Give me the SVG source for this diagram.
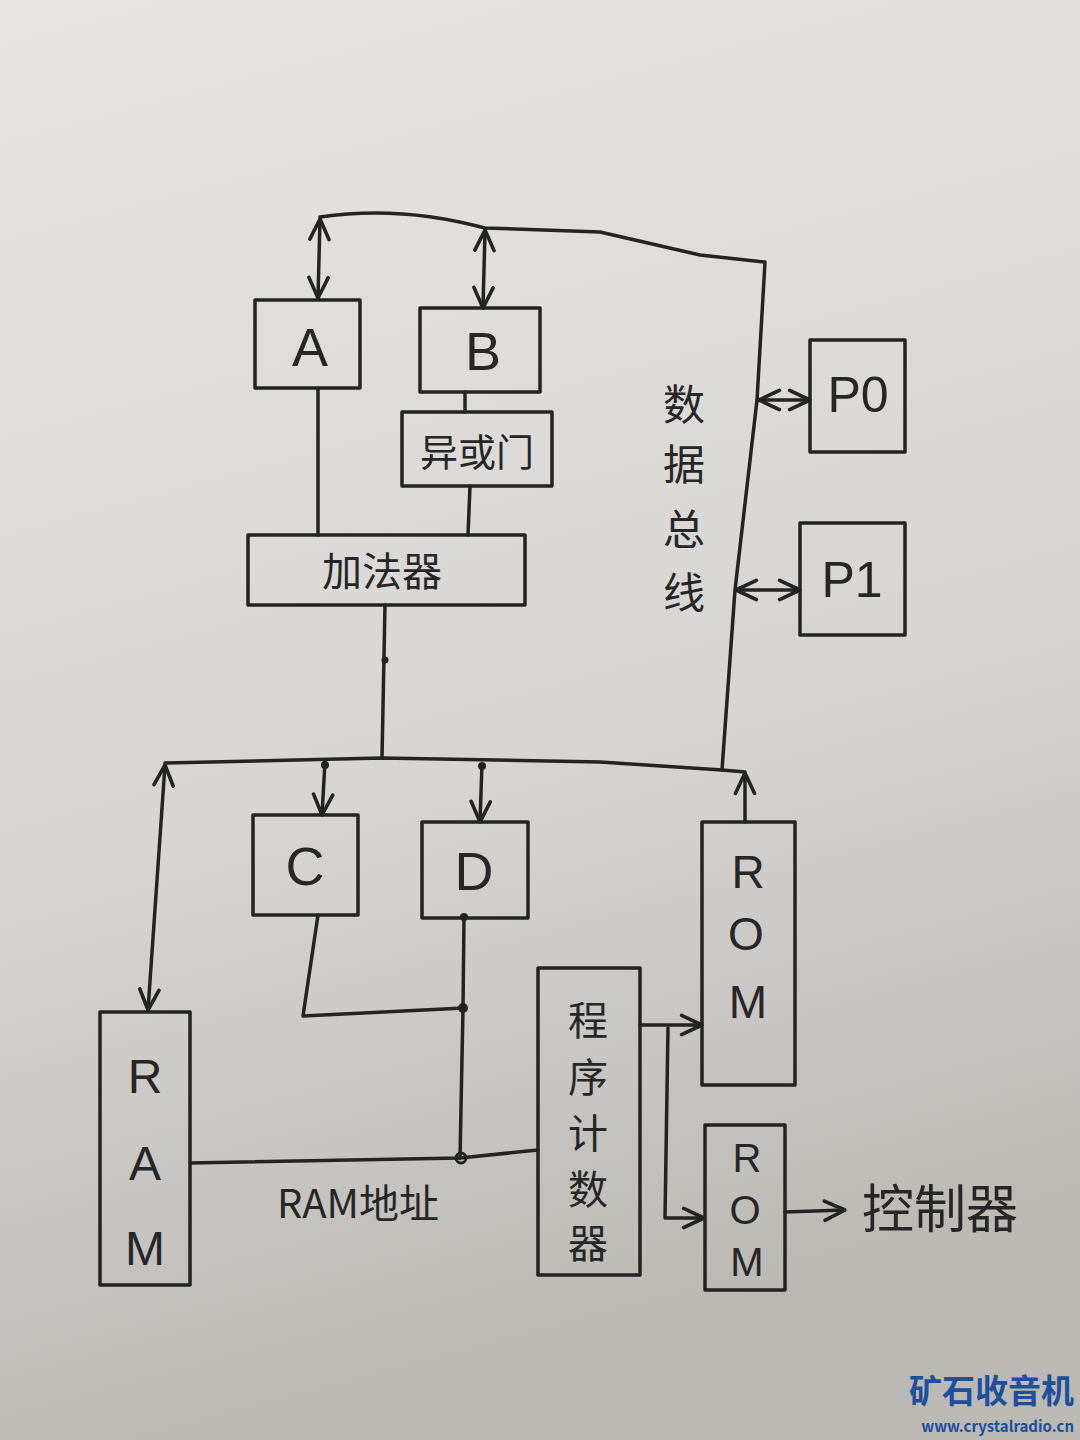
<svg xmlns="http://www.w3.org/2000/svg" width="1080" height="1440" viewBox="0 0 1080 1440">
  <defs>
    <linearGradient id="paper" x1="0" y1="0" x2="0.2" y2="1">
      <stop offset="0" stop-color="#e6e5e3"/>
      <stop offset="0.6" stop-color="#d6d5d2"/>
      <stop offset="1" stop-color="#bbb9b4"/>
    </linearGradient>
    <marker id="arr" viewBox="0 0 20 20" refX="19" refY="10" markerWidth="24" markerHeight="24" markerUnits="userSpaceOnUse" orient="auto-start-reverse">
      <path d="M2,2 L19,10 L2,18" fill="none" stroke="#232323" stroke-width="3" stroke-linecap="round" stroke-linejoin="round"/>
    </marker>
    <style>
      .box { fill: none; stroke: #232323; stroke-width: 3.5; stroke-linejoin: round; }
      .ln { fill: none; stroke: #232323; stroke-width: 3.5; stroke-linecap: round; stroke-linejoin: round; }
      .dot { fill: #232323; }
      .lat { font-family: "Liberation Sans", "DejaVu Sans", sans-serif; fill: #262626; text-anchor: middle; }
      .cjk { font-family: "Noto Sans CJK SC", "Noto Sans", sans-serif; fill: #262626; text-anchor: middle; }
      .wm { font-family: "Noto Sans CJK SC", "Noto Sans", sans-serif; fill: #1e4f9c; text-anchor: end; font-weight: bold; }
    </style>
  </defs>

  <rect x="0" y="0" width="1080" height="1440" fill="url(#paper)"/>

  <g id="connectors">
    <!-- top bus -->
    <path class="ln" d="M320,217 Q400,205 485,228 L600,232 L700,255 L765,262 L757,400 L735,590 L722,770"/>
    <!-- A / B double arrows -->
    <line class="ln" x1="320" y1="219" x2="318" y2="298" marker-start="url(#arr)" marker-end="url(#arr)"/>
    <line class="ln" x1="485" y1="230" x2="483" y2="308" marker-start="url(#arr)" marker-end="url(#arr)"/>
    <!-- P0 / P1 double arrows -->
    <line class="ln" x1="759" y1="400" x2="810" y2="400" marker-start="url(#arr)" marker-end="url(#arr)"/>
    <line class="ln" x1="736" y1="590" x2="800" y2="590" marker-start="url(#arr)" marker-end="url(#arr)"/>
    <!-- A to adder, B to xor, xor to adder -->
    <line class="ln" x1="318" y1="388" x2="318" y2="535"/>
    <line class="ln" x1="465" y1="392" x2="465" y2="412"/>
    <line class="ln" x1="470" y1="486" x2="468" y2="535"/>
    <!-- adder to lower bus -->
    <line class="ln" x1="385" y1="605" x2="382" y2="758"/>
    <circle class="dot" cx="385" cy="660" r="3.5"/>
    <!-- lower bus -->
    <path class="ln" d="M165,763 L382,758 L600,762 L722,770 L745,772"/>
    <!-- RAM double arrow -->
    <line class="ln" x1="165" y1="765" x2="148" y2="1010" marker-start="url(#arr)" marker-end="url(#arr)"/>
    <!-- C, D arrows -->
    <line class="ln" x1="325" y1="762" x2="322" y2="815" marker-end="url(#arr)"/>
    <circle class="dot" cx="325" cy="765" r="4"/>
    <line class="ln" x1="482" y1="764" x2="480" y2="822" marker-end="url(#arr)"/>
    <circle class="dot" cx="482" cy="766" r="4"/>
    <!-- ROM up arrow -->
    <line class="ln" x1="745" y1="822" x2="745" y2="773" marker-end="url(#arr)"/>
    <!-- C/D to RAM address -->
    <path class="ln" d="M318,915 L303,1016 L464,1008"/>
    <path class="ln" d="M464,917 L463,1008 L460,1158"/>
    <circle class="dot" cx="464" cy="917" r="4"/>
    <circle class="dot" cx="463" cy="1008" r="5"/>
    <circle cx="461" cy="1158" r="5" fill="none" stroke="#232323" stroke-width="3"/>
    <path class="ln" d="M190,1163 L460,1158 L538,1150"/>
    <!-- program counter to ROMs -->
    <line class="ln" x1="640" y1="1025" x2="702" y2="1025" marker-end="url(#arr)"/>
    <path class="ln" d="M668,1028 L665,1218 L704,1218" marker-end="url(#arr)"/>
    <!-- ROM2 to controller -->
    <line class="ln" x1="785" y1="1212" x2="845" y2="1210" marker-end="url(#arr)"/>
  </g>

  <g id="node-A">
    <rect class="box" x="255" y="300" width="105" height="88"/>
    <text class="lat" x="310" y="366" font-size="54">A</text>
  </g>
  <g id="node-B">
    <rect class="box" x="420" y="308" width="120" height="84"/>
    <text class="lat" x="483" y="370" font-size="54">B</text>
  </g>
  <g id="node-xor">
    <rect class="box" x="402" y="412" width="150" height="74"/>
    <text class="cjk" x="477" y="466" font-size="38">异或门</text>
  </g>
  <g id="node-adder">
    <rect class="box" x="248" y="535" width="277" height="70"/>
    <text class="cjk" x="382" y="586" font-size="40">加法器</text>
  </g>
  <g id="node-bus-label">
    <text class="cjk" x="684" y="420" font-size="42">数</text>
    <text class="cjk" x="684" y="480" font-size="42">据</text>
    <text class="cjk" x="684" y="545" font-size="42">总</text>
    <text class="cjk" x="684" y="608" font-size="42">线</text>
  </g>
  <g id="node-P0">
    <rect class="box" x="810" y="340" width="95" height="112"/>
    <text class="lat" x="858" y="412" font-size="50">P0</text>
  </g>
  <g id="node-P1">
    <rect class="box" x="800" y="523" width="105" height="112"/>
    <text class="lat" x="852" y="597" font-size="50">P1</text>
  </g>
  <g id="node-C">
    <rect class="box" x="253" y="815" width="105" height="100"/>
    <text class="lat" x="305" y="885" font-size="54">C</text>
  </g>
  <g id="node-D">
    <rect class="box" x="422" y="822" width="106" height="96"/>
    <text class="lat" x="474" y="890" font-size="54">D</text>
  </g>
  <g id="node-ROM1">
    <rect class="box" x="702" y="822" width="93" height="263"/>
    <text class="lat" x="748" y="888" font-size="46">R</text>
    <text class="lat" x="746" y="950" font-size="46">O</text>
    <text class="lat" x="748" y="1018" font-size="46">M</text>
  </g>
  <g id="node-PC">
    <rect class="box" x="538" y="968" width="102" height="307"/>
    <text class="cjk" x="588" y="1035" font-size="40">程</text>
    <text class="cjk" x="588" y="1092" font-size="40">序</text>
    <text class="cjk" x="588" y="1148" font-size="40">计</text>
    <text class="cjk" x="588" y="1204" font-size="40">数</text>
    <text class="cjk" x="588" y="1258" font-size="40">器</text>
  </g>
  <g id="node-ROM2">
    <rect class="box" x="705" y="1125" width="80" height="165"/>
    <text class="lat" x="747" y="1172" font-size="40">R</text>
    <text class="lat" x="745" y="1224" font-size="40">O</text>
    <text class="lat" x="747" y="1276" font-size="40">M</text>
  </g>
  <g id="node-controller">
    <text class="cjk" x="940" y="1228" font-size="52">控制器</text>
  </g>
  <g id="node-RAM">
    <rect class="box" x="100" y="1012" width="90" height="273"/>
    <text class="lat" x="145" y="1093" font-size="48">R</text>
    <text class="lat" x="145" y="1180" font-size="48">A</text>
    <text class="lat" x="145" y="1265" font-size="48">M</text>
  </g>
  <g id="node-ram-addr">
    <text class="cjk" x="358" y="1218" font-size="40">RAM地址</text>
  </g>
  <g id="watermark">
    <text class="wm" x="1074" y="1403" font-size="33">矿石收音机</text>
    <text class="wm" x="1074" y="1432" font-size="15">www.crystalradio.cn</text>
  </g>
</svg>
